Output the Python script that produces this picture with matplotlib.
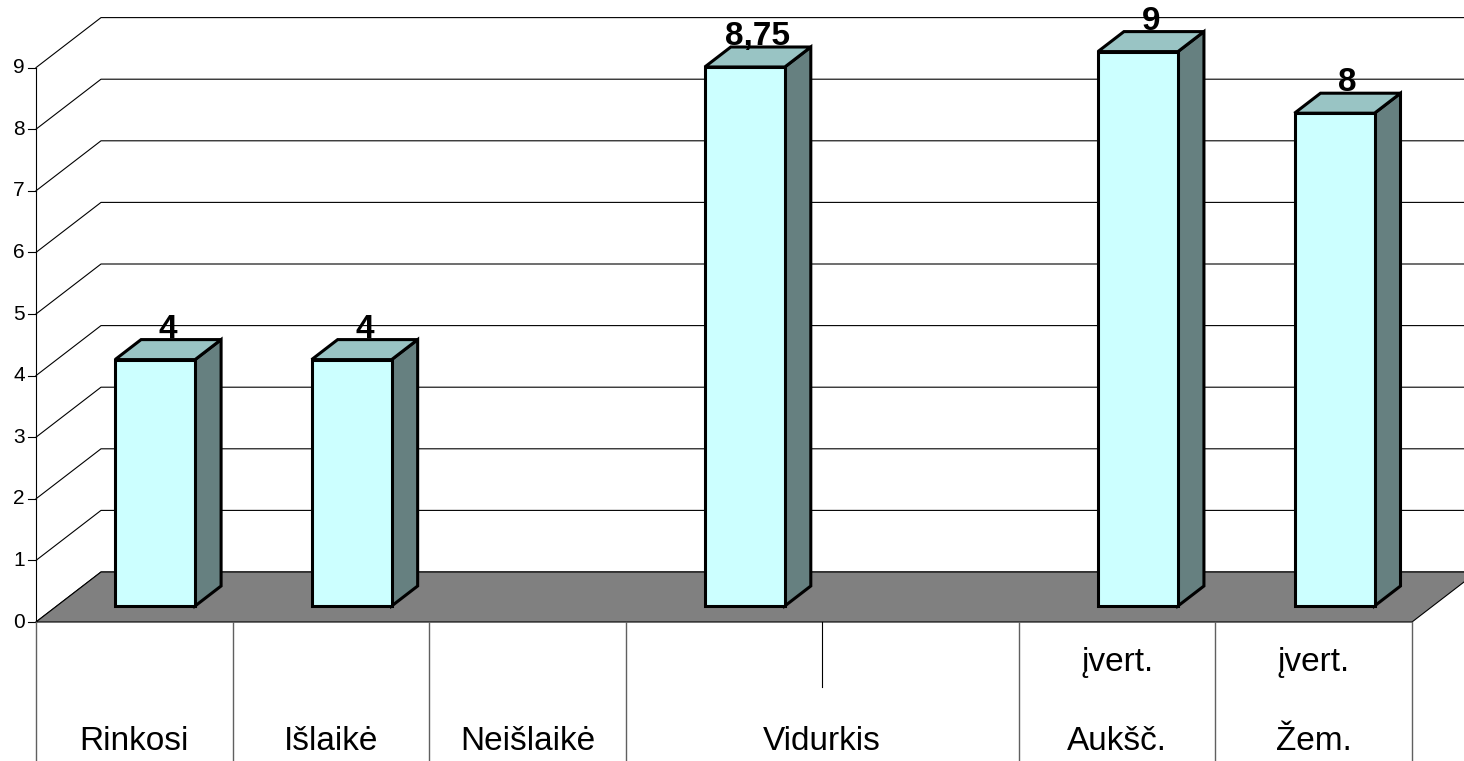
import numpy as np
import matplotlib
matplotlib.use("Agg")
import matplotlib.pyplot as plt
from matplotlib.patches import Polygon

# data
slots = ["Rinkosi", "Išlaikė", "Neišlaikė", "Vidurkis", "", "Aukšč.", "Žem."]
top_labels = ["", "", "", "", "", "įvert.", "įvert."]
values = [4, 4, None, 8.75, None, 9, 8]
yticks = list(range(10))

plt.rcParams['font.family'] = ['Liberation Sans', 'DejaVu Sans']

# pixel geometry of the fake 3D box
W = 196.57   # px per category slot
H = 61.6     # px per value unit
DX = 65 / W  # depth shift, in data units
DY = 50 / H
n = len(slots)
d0 = 0.32    # bar front position in depth
bd = 0.40    # bar depth
bw = 0.407   # bar width (slot fraction)

fig = plt.figure(figsize=(14.64, 7.61), dpi=100)
ax = fig.add_axes([0, 0, 1, 1])
ax.set_xlim(-36 / W, (1464 - 36) / W)
ax.set_ylim(-139 / H, 622 / H)
ax.axis('off')
xr = ax.get_xlim()[1]

# walls: gridlines
for v in yticks:
    ax.plot([0, DX, xr], [v, v + DY, v + DY], color='black', lw=0.8, zorder=1)
    ax.plot([-8 / W, 0], [v, v], color='black', lw=0.8, zorder=1)
    ax.text(-11 / W, v, str(v), ha='right', va='center', fontsize=15)
ax.plot([0, 0], [0, yticks[-1]], color='black', lw=0.8, zorder=1)

# floor
floor = Polygon([(0, 0), (n, 0), (n + DX, DY), (DX, DY)], closed=True,
                facecolor='#808080', edgecolor='black', lw=0.8, zorder=2)
ax.add_patch(floor)

# bars
for i, v in enumerate(values):
    if v is None:
        continue
    c = i + 0.5
    x0 = c - bw / 2 + d0 * DX
    x1 = c + bw / 2 + d0 * DX
    y0 = d0 * DY
    ex, ey = bd * DX, bd * DY
    kw = dict(closed=True, edgecolor='black', lw=2.2, joinstyle='miter', zorder=3)
    ax.add_patch(Polygon([(x1, y0), (x1 + ex, y0 + ey), (x1 + ex, y0 + v + ey), (x1, y0 + v)],
                         facecolor='#668080', **kw))
    ax.add_patch(Polygon([(x0, y0 + v), (x1, y0 + v), (x1 + ex, y0 + v + ey), (x0 + ex, y0 + v + ey)],
                         facecolor='#99C4C4', **kw))
    ax.add_patch(Polygon([(x0, y0), (x1, y0), (x1, y0 + v), (x0, y0 + v)],
                         facecolor='#CCFFFF', **kw))
    lbl = ('%g' % v).replace('.', ',')
    ax.text((x0 + x1) / 2 + ex / 2, y0 + v + ey + 2 / H, lbl, ha='center', va='baseline',
            fontsize=24, fontweight='bold', zorder=4)

# category table below the floor
yb = ax.get_ylim()[0]
for k in range(n + 1):
    if k == 4:
        ax.plot([k, k], [0, -65 / H], color='black', lw=0.8)
    else:
        ax.plot([k, k], [0, yb], color='#606060', lw=1.0)
for i, s in enumerate(slots):
    if s == "":
        continue
    xc = i + 1.0 if s == "Vidurkis" else i + 0.5
    ax.text(xc, -119 / H, s, ha='center', va='center', fontsize=24)
    if top_labels[i]:
        ax.text(xc, -41 / H, top_labels[i], ha='center', va='center', fontsize=24)

fig.savefig("out.png", dpi=100)
